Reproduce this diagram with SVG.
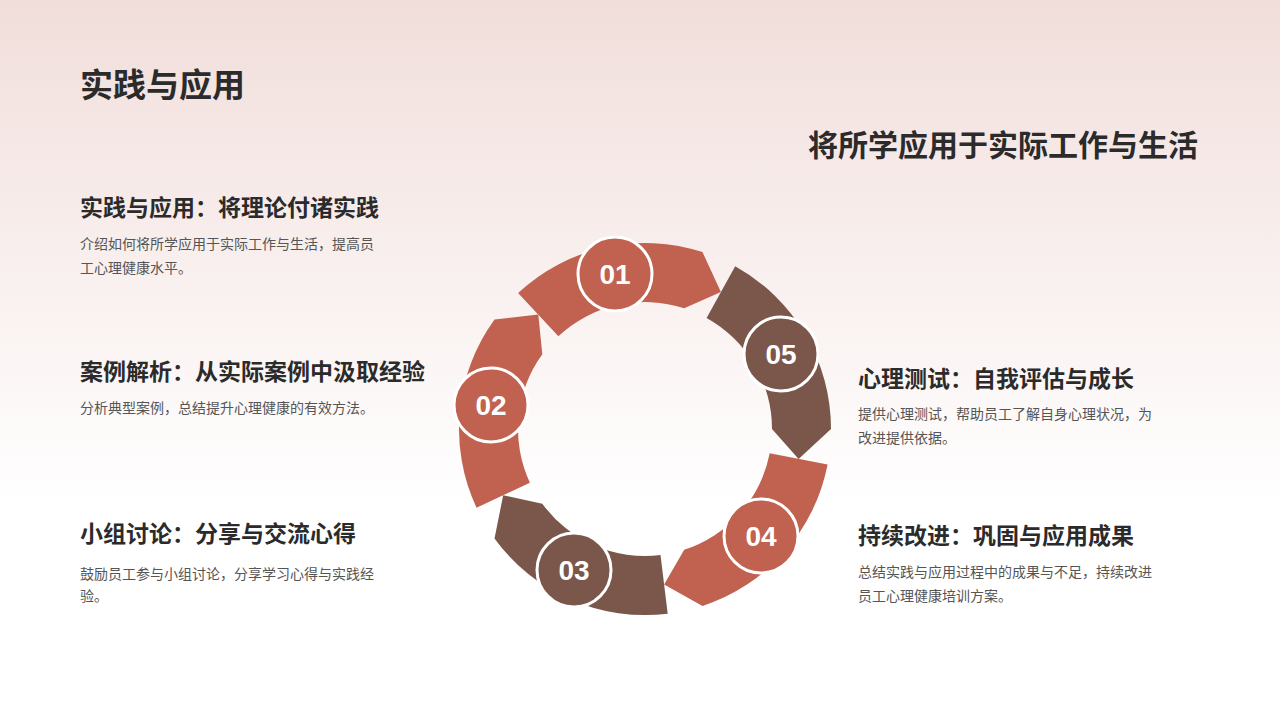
<svg xmlns="http://www.w3.org/2000/svg" width="1280" height="720" viewBox="0 0 1280 720">
<defs>
<linearGradient id="bg" x1="0" y1="0" x2="0" y2="1">
<stop offset="0" stop-color="#F1DEDB"/><stop offset="0.7" stop-color="#FFFFFF"/><stop offset="1" stop-color="#FFFFFF"/>
</linearGradient>
<style>
text{font-family:"Liberation Sans","Noto Sans CJK SC",sans-serif}
.h{font-size:23px;font-weight:bold;fill:#2b2b2b}
.b{font-size:14px;fill:#555}
.a{fill:#C0624F}.d{fill:#7A574A}
.c{stroke:#fff;stroke-width:3}
.n{font-size:28px;font-weight:bold;fill:#fff;text-anchor:middle}
</style>
</defs>
<rect width="1280" height="720" fill="url(#bg)"/>
<text x="80" y="97" style="font-size:33px;font-weight:bold;fill:#2b2b2b">实践与应用</text>
<text x="1198" y="156" text-anchor="end" style="font-size:30px;font-weight:bold;fill:#2b2b2b">将所学应用于实际工作与生活</text>
<g id="connectors">
<path class="a" d="M518.1,293 A186,186 0 0 1 702.5,252.1 L720.9,292.1 L684.2,308.2 A127,127 0 0 0 558.4,336.2 Z"/>
<path class="d" d="M735.2,266.3 A186,186 0 0 1 831,429 L798.6,458.9 L772,429 A127,127 0 0 0 706.6,317.9 Z"/>
<path class="a" d="M827.6,464.5 A186,186 0 0 1 702.5,605.9 L664.1,584.4 L684.2,549.8 A127,127 0 0 0 769.7,453.3 Z"/>
<path class="d" d="M667.7,613.7 A186,186 0 0 1 494.5,538.4 L503.2,495.2 L542.3,503.7 A127,127 0 0 0 660.5,555.1 Z"/>
<path class="a" d="M476.5,507.7 A186,186 0 0 1 494.5,319.6 L538.3,314.6 L542.3,354.3 A127,127 0 0 0 529.9,482.7 Z"/>
</g>
<g id="n01"><circle class="a c" cx="615" cy="274" r="37"/><text class="n" x="615" y="284">01</text></g>
<g id="n05"><circle class="d c" cx="781" cy="354" r="37"/><text class="n" x="781" y="364">05</text></g>
<g id="n04"><circle class="a c" cx="761" cy="536" r="37"/><text class="n" x="761" y="546">04</text></g>
<g id="n03"><circle class="d c" cx="574" cy="570" r="37"/><text class="n" x="574" y="580">03</text></g>
<g id="n02"><circle class="a c" cx="491" cy="405" r="37"/><text class="n" x="491" y="415">02</text></g>
<g id="t1"><text class="h" x="80" y="216">实践与应用：将理论付诸实践</text>
<text class="b" x="80" y="249">介绍如何将所学应用于实际工作与生活，提高员</text><text class="b" x="80" y="273">工心理健康水平。</text></g>
<g id="t2"><text class="h" x="80" y="380">案例解析：从实际案例中汲取经验</text>
<text class="b" x="80" y="413">分析典型案例，总结提升心理健康的有效方法。</text></g>
<g id="t3"><text class="h" x="80" y="542">小组讨论：分享与交流心得</text>
<text class="b" x="80" y="579">鼓励员工参与小组讨论，分享学习心得与实践经</text><text class="b" x="80" y="601">验。</text></g>
<g id="t5"><text class="h" x="858" y="387">心理测试：自我评估与成长</text>
<text class="b" x="858" y="419">提供心理测试，帮助员工了解自身心理状况，为</text><text class="b" x="858" y="443">改进提供依据。</text></g>
<g id="t4"><text class="h" x="858" y="544">持续改进：巩固与应用成果</text>
<text class="b" x="858" y="577">总结实践与应用过程中的成果与不足，持续改进</text><text class="b" x="858" y="601">员工心理健康培训方案。</text></g>
</svg>
